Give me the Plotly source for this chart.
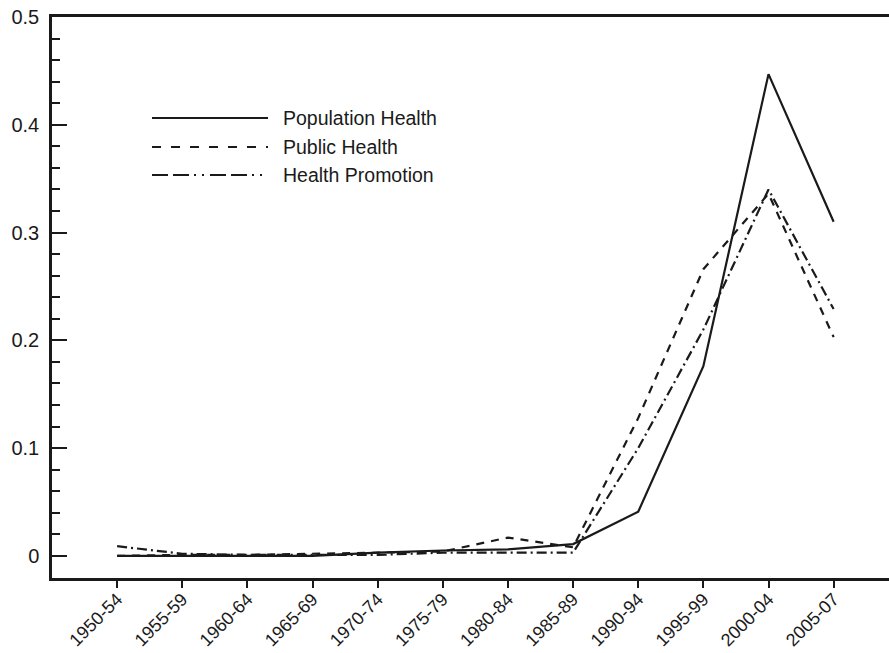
import plotly.graph_objects as go

categories = ['1950-54', '1955-59', '1960-64', '1965-69', '1970-74', '1975-79',
              '1980-84', '1985-89', '1990-94', '1995-99', '2000-04', '2005-07']
population_health = [0.0, 0.0, 0.0, 0.0, 0.003, 0.005, 0.006, 0.011, 0.041, 0.176, 0.447, 0.310]
public_health = [0.0, 0.001, 0.001, 0.002, 0.003, 0.004, 0.017, 0.008, 0.128, 0.266, 0.336, 0.203]
health_promotion = [0.009, 0.002, 0.001, 0.001, 0.001, 0.003, 0.003, 0.003, 0.100, 0.210, 0.340, 0.229]

series_names = ['Population Health', 'Public Health', 'Health Promotion']
y_ticks = [0, 0.1, 0.2, 0.3, 0.4, 0.5]
y_ticktext = ['0', '0.1', '0.2', '0.3', '0.4', '0.5']

W, H = 889, 653
L, R, T, B = 52, 0, 17, 75
FONT = 'Liberation Sans, Arial, Helvetica, sans-serif'
INK = '#1a1a1a'

data_dash = ['solid', '8px,7px', '10px,4px,2px,4px']
legend_dash = ['solid', '9px,10px', '16px,5px,16px,5px,2px,6px,2px,6px']

fig = go.Figure()
for vals, name, dash in zip([population_health, public_health, health_promotion], series_names, data_dash):
    fig.add_trace(go.Scatter(x=categories, y=vals, mode='lines', name=name,
                             line=dict(color=INK, width=2.2, dash=dash), showlegend=False))

pw = W - L - R
ph = H - T - B


def px_x(px):
    return (px - L) / pw


def px_y(py):
    return (H - B - py) / ph


legend_rows = [118, 147, 175]
shapes = []
annotations = []
for name, dash, row in zip(series_names, legend_dash, legend_rows):
    shapes.append(dict(type='line', xref='paper', yref='paper',
                       x0=px_x(152), x1=px_x(268), y0=px_y(row), y1=px_y(row),
                       line=dict(color=INK, width=2.2, dash=dash)))
    annotations.append(dict(xref='paper', yref='paper', x=px_x(281), y=px_y(row),
                            text=name, showarrow=False, xanchor='left', yanchor='middle',
                            font=dict(family=FONT, size=19.5, color=INK)))

fig.update_layout(
    width=W, height=H,
    margin=dict(l=L, r=R, t=T, b=B),
    paper_bgcolor='white', plot_bgcolor='white',
    font=dict(family=FONT, size=18, color=INK),
    shapes=shapes, annotations=annotations,
    xaxis=dict(type='category', range=[-1, 11.85], showgrid=False, zeroline=False,
               automargin=False,
               showline=True, linecolor=INK, linewidth=2.5, mirror=True,
               ticks='outside', ticklen=7, tickwidth=2, tickcolor=INK,
               tickangle=-45, tickfont=dict(family=FONT, size=18, color=INK),
               ticklabelstandoff=-6),
    yaxis=dict(range=[-0.0205, 0.5], showgrid=False, zeroline=False,
               automargin=False,
               showline=True, linecolor=INK, linewidth=2.5,
               tickmode='array', tickvals=y_ticks, ticktext=y_ticktext,
               ticks='inside', ticklen=15, tickwidth=2, tickcolor=INK,
               minor=dict(ticks='inside', ticklen=8, tickwidth=1.5, tickcolor=INK, dtick=0.02),
               tickfont=dict(family=FONT, size=20, color=INK), ticklabelstandoff=6),
)

fig.write_html('out.html')
